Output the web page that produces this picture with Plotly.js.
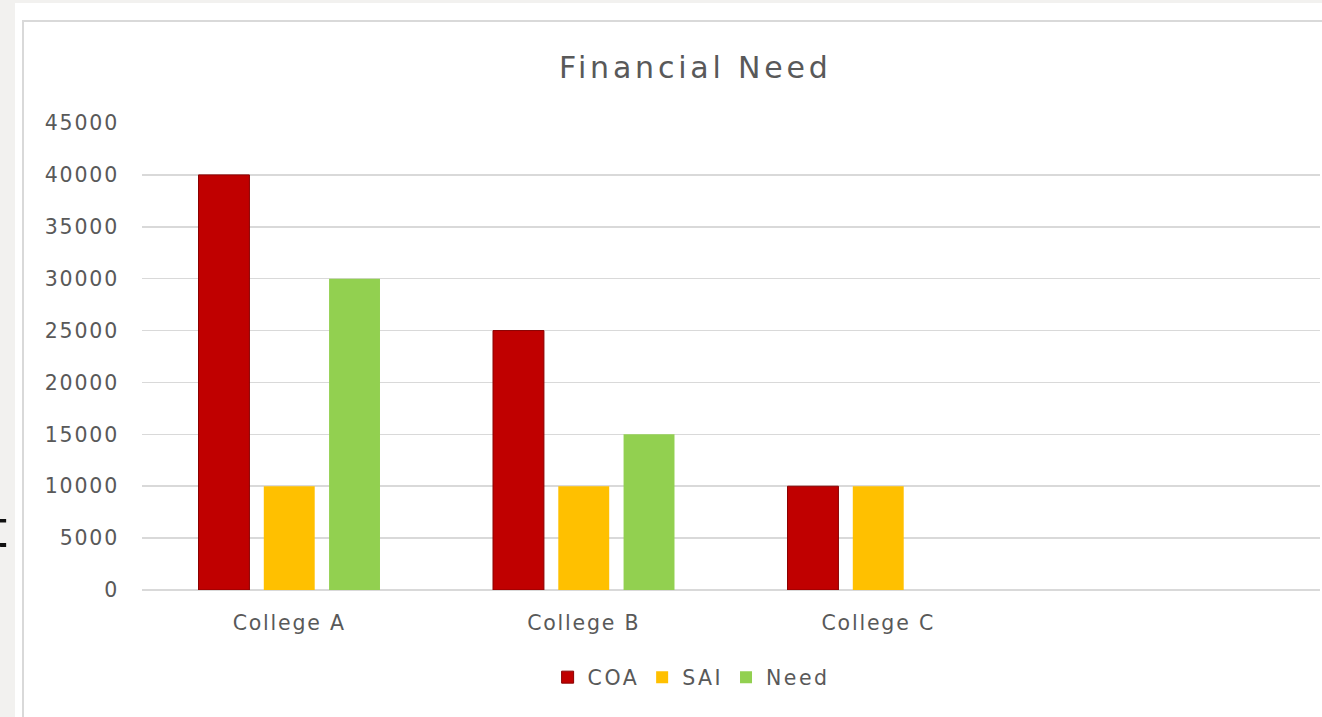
<!DOCTYPE html>
<html>
<head>
<meta charset="utf-8">
<script src="https://cdn.plot.ly/plotly-3.0.1.min.js"></script>
<style>
  html, body { margin: 0; padding: 0; width: 1322px; height: 717px; overflow: hidden; background: #f2f1ef; position: relative; }
  #card { position: absolute; left: 15px; top: 3px; width: 1307px; height: 714px; background: #ffffff; z-index: 1; }
  #chart { position: absolute; left: 22px; top: 20px; width: 1300px; height: 697px; border-left: 2px solid #d9d9d9; border-top: 2px solid #d9d9d9; box-sizing: border-box; background: #fff; z-index: 2; }
  #edge { position: absolute; left: -13px; top: 503px; font-family: 'DejaVu Sans', sans-serif; font-size: 52px; color: #111; line-height: 1; z-index: 3; }
  svg text { letter-spacing: 1.8px; }
  #chart .gtitle { letter-spacing: 3.8px; }
  #chart .legendtext { letter-spacing: 2.5px; }
</style>
</head>
<body>
<div id="edge">t</div>
<div id="card"></div>
<div id="chart"></div>
<script>
const categories = ["College A", "College B", "College C"];
const coa = [40000, 25000, 10000];
const sai = [10000, 10000, 10000];
const need = [30000, 15000, 0];
const seriesNames = ["COA", "SAI", "Need"];
const colors = ["#C00000", "#FFC000", "#92D050"];
const outlines = ["#8a0000", "#FFC000", "#92D050"];
const outlineWidths = [1, 0, 0];

const values = [coa, sai, need];
const traces = values.map((v, i) => ({
  type: 'bar',
  name: seriesNames[i],
  x: categories,
  y: v,
  marker: { color: colors[i], line: { color: outlines[i], width: outlineWidths[i] } },
  hoverinfo: 'x+y+name'
}));

const font = "'DejaVu Sans', 'Liberation Sans', sans-serif";
const layout = {
  width: 1296,
  height: 695,
  paper_bgcolor: '#ffffff',
  plot_bgcolor: '#ffffff',
  margin: { l: 118, r: 0, t: 101, b: 127, pad: 0 },
  title: {
    text: 'Financial Need',
    font: { family: font, size: 30, color: '#595959' },
    x: 0.518, xanchor: 'center', y: 0.935, yanchor: 'middle'
  },
  barmode: 'group',
  bargap: 0.335,
  bargroupgap: 0.22,
  xaxis: {
    type: 'category',
    range: [-0.5, 3.5],
    showgrid: false,
    zeroline: false,
    showline: false,
    ticks: '',
    tickfont: { family: font, size: 20.5, color: '#595959' },
    ticklabelstandoff: 18
  },
  yaxis: {
    range: [0, 45000],
    dtick: 5000,
    tick0: 0,
    showgrid: true,
    gridcolor: '#d9d9d9',
    gridwidth: 1.5,
    zeroline: true,
    zerolinecolor: '#d9d9d9',
    zerolinewidth: 1.5,
    showline: false,
    ticks: '',
    tickformat: 'd',
    tickfont: { family: font, size: 20.5, color: '#595959' },
    ticklabelstandoff: 22
  },
  showlegend: true,
  legend: {
    orientation: 'h',
    x: 0.4653, xanchor: 'center',
    y: -0.187, yanchor: 'middle',
    font: { family: font, size: 20.5, color: '#595959' },
    itemwidth: 30,
    traceorder: 'normal'
  }
};

Plotly.newPlot('chart', traces, layout, { displayModeBar: false, staticPlot: true });
</script>
</body>
</html>
